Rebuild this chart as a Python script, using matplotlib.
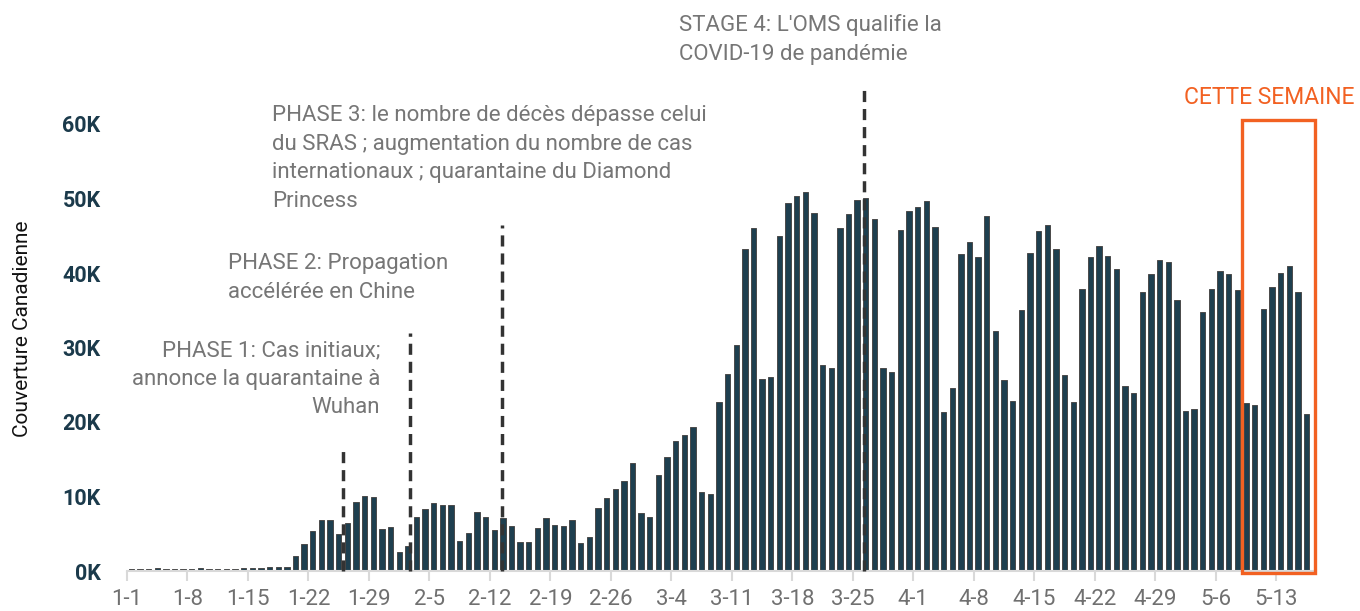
import numpy as np
import matplotlib
matplotlib.use("Agg")
from matplotlib import pyplot as plt
from matplotlib.patches import Rectangle

# daily Canadian coverage (thousands), from 1-1 to 5-16
coverage_k = [
    0.25, 0.3, 0.3, 0.4, 0.3, 0.3, 0.3, 0.25, 0.45, 0.3, 0.3, 0.3, 0.3, 0.35, 0.35, 0.4,
    0.55, 0.6, 0.55, 2.0, 3.6, 5.4, 6.85, 6.85, 4.9, 6.4, 9.3, 10.1, 10.0, 5.7,
    5.9, 2.5, 3.4, 7.3, 8.3, 9.1, 8.8, 8.8, 4.0, 5.1, 7.9, 7.3, 5.5, 7.1,
    6.0, 3.9, 3.9, 5.8, 7.1, 6.2, 6.1, 6.8, 3.8, 4.6, 8.5, 9.75, 11.0, 12.1,
    14.5, 7.8, 7.3, 12.9, 15.3, 17.4, 18.3, 19.3, 10.6, 10.4, 22.7, 26.5, 30.3, 43.2,
    46.1, 25.8, 26.1, 45.0, 49.4, 50.4, 50.9, 48.1, 27.7, 27.3, 46.0, 47.9, 49.8, 50.1,
    47.2, 27.3, 26.7, 45.8, 48.3, 48.9, 49.6, 46.2, 21.3, 24.5, 42.5, 44.2, 42.2, 47.7,
    32.2, 25.6, 22.8, 35.1, 42.7, 45.6, 46.4, 43.2, 26.3, 22.7, 37.9, 42.2, 43.6, 42.3,
    40.6, 24.8, 23.9, 37.4, 39.9, 41.7, 41.5, 36.4, 21.5, 21.8, 34.7, 37.8, 40.3, 39.8,
    37.7, 22.6, 22.3, 35.2, 38.1, 40.0, 41.0, 37.5, 21.1,
]
tick_labels = ["1-1", "1-8", "1-15", "1-22", "1-29", "2-5", "2-12", "2-19", "2-26",
               "3-4", "3-11", "3-18", "3-25", "4-1", "4-8", "4-15", "4-22", "4-29",
               "5-6", "5-13"]

# event markers: day position and line top (thousands)
event_days = [25.0, 32.7, 43.4, 85.3]
event_tops_k = [16.4, 32.0, 46.4, 65.4]
event_texts = [
    "PHASE 1: Cas initiaux;\nannonce la quarantaine à\nWuhan",
    "PHASE 2: Propagation\naccélérée en Chine",
    "PHASE 3: le nombre de décès dépasse celui\ndu SRAS ; augmentation du nombre de cas\n"
    "internationaux ; quarantaine du Diamond\nPrincess",
    "STAGE 4: L'OMS qualifie la\nCOVID-19 de pandémie",
]

# highlighted week
week_start, week_end, week_top_k = 129.0, 137.5, 60.5

plt.rcParams['font.family'] = ['Roboto', 'DejaVu Sans']

W, H = 1360, 611
fig = plt.figure(figsize=(W / 100, H / 100), dpi=100)
ax = fig.add_axes([127 / W, 1 - 571 / H, (1316 - 127) / W, (571 - 49.5) / H])

days = np.arange(len(coverage_k)) + 0.5
values = np.array(coverage_k) * 1000
ax.bar(days, values, width=0.62, color="#1e3f4f", edgecolor="#4a4a4a", linewidth=0.7, zorder=2)

ax.set_xlim(0, 137.6)
ax.set_ylim(0, 70000)

ax.set_xticks(np.arange(len(tick_labels)) * 7)
ax.set_xticklabels(tick_labels, color="#707070", fontsize=16)
yt = np.arange(0, 70000, 10000)
ax.set_yticks(yt)
ax.set_yticklabels([f"{int(v / 1000)}K" for v in yt], color="#1b3a4b", fontsize=15.5, fontweight="bold")
ax.tick_params(axis="x", length=7, width=1.5, color="#d9d9d9", pad=6)
ax.tick_params(axis="y", length=0, pad=19)

for s in ["top", "right", "left"]:
    ax.spines[s].set_visible(False)
ax.spines["bottom"].set_color("#d9d9d9")
ax.spines["bottom"].set_linewidth(1.5)

ax.set_ylabel("Couverture Canadienne", fontsize=15, color="#111111")
ax.yaxis.set_label_coords(-0.08, 0.465)

for d, top in zip(event_days, event_tops_k):
    ax.plot([d, d], [0, top * 1000], color="#333333", lw=2.5,
            linestyle=(0, (3.2, 2.0)), zorder=3, clip_on=False)

txt_kw = dict(color="#767676", fontsize=16, linespacing=1.47, va="top")
fig.text(380 / W, 1 - 340 / H, event_texts[0], ha="right", **txt_kw)
fig.text(228 / W, 1 - 253 / H, event_texts[1], ha="left", **txt_kw)
fig.text(272 / W, 1 - 105 / H, event_texts[2], ha="left", **txt_kw)
fig.text(679 / W, 1 - 14 / H, event_texts[3], ha="left", **txt_kw)

ax.add_patch(Rectangle((week_start, -300), week_end - week_start, week_top_k * 1000 + 300,
                       fill=False, edgecolor="#f26122", linewidth=2.4, zorder=4, clip_on=False))
fig.text(1355 / W, 1 - 97 / H, "CETTE SEMAINE", ha="right", va="center",
         color="#f26122", fontsize=16.5)

fig.savefig("out.png", dpi=100)
